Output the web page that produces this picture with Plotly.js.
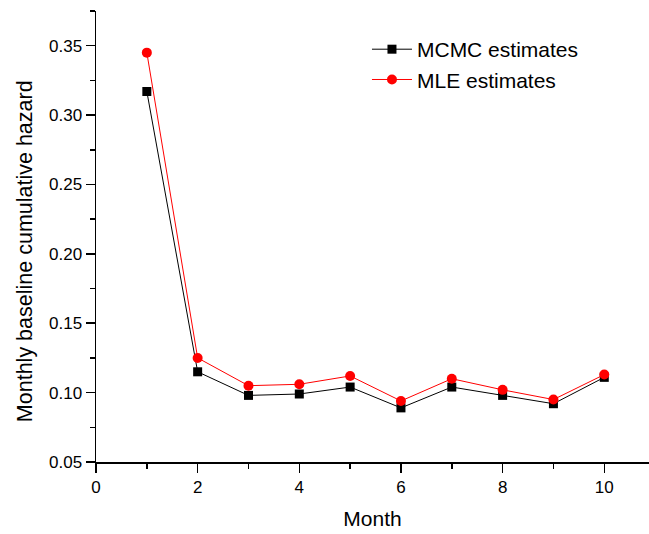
<!DOCTYPE html>
<html>
<head>
<meta charset="utf-8">
<script src="https://cdn.plot.ly/plotly-3.0.1.min.js"></script>
<style>html,body{margin:0;padding:0;background:#fff;}#chart{width:649px;height:534px;}</style>
</head>
<body>
<div id="chart"></div>
<script>
const months = [1, 2, 3, 4, 5, 6, 7, 8, 9, 10];
const mcmcEstimates = [0.317, 0.115, 0.098, 0.099, 0.104, 0.089, 0.104, 0.098, 0.092, 0.111];
const mleEstimates = [0.345, 0.125, 0.105, 0.106, 0.112, 0.094, 0.110, 0.102, 0.095, 0.113];
const seriesNames = ["MCMC estimates", "MLE estimates"];
const xTitle = "Month";
const yTitle = "Monthly baseline cumulative hazard";

const traces = [
  {x: months, y: mcmcEstimates, name: seriesNames[0], type: "scatter", mode: "lines+markers",
   line: {color: "#000000", width: 1}, marker: {symbol: "square", size: 9, color: "#000000"}},
  {x: months, y: mleEstimates, name: seriesNames[1], type: "scatter", mode: "lines+markers",
   line: {color: "#ff0000", width: 1}, marker: {symbol: "circle", size: 10, color: "#ff0000"}}
];

const font = {family: "Liberation Sans, Arial, sans-serif", color: "#000000"};
const layout = {
  width: 649, height: 534,
  margin: {l: 96, r: 0, t: 11, b: 72},
  paper_bgcolor: "#ffffff", plot_bgcolor: "#ffffff",
  font: Object.assign({size: 16}, font),
  showlegend: true,
  legend: {x: 0.49, y: 0.96, xanchor: "left", yanchor: "top", bgcolor: "rgba(0,0,0,0)",
           font: Object.assign({size: 21}, font), tracegroupgap: 0, itemwidth: 40},
  xaxis: {
    range: [0, 10.88], tick0: 0, dtick: 2, ticks: "outside", ticklen: 9, tickwidth: 1.5,
    tickcolor: "#000", showline: true, linecolor: "#000", linewidth: 1.5, showgrid: false,
    zeroline: false, tickfont: Object.assign({size: 17}, font),
    minor: {dtick: 1, tick0: 0, ticks: "outside", ticklen: 5, tickwidth: 1.5, tickcolor: "#000", showgrid: false},
    title: {text: xTitle, font: Object.assign({size: 21}, font), standoff: 15}
  },
  yaxis: {
    range: [0.05, 0.375], tick0: 0.05, dtick: 0.05, tickformat: ".2f", ticks: "outside", ticklen: 9, tickwidth: 1.5,
    tickcolor: "#000", showline: true, linecolor: "#000", linewidth: 1.5, showgrid: false,
    zeroline: false, tickfont: Object.assign({size: 17}, font),
    minor: {dtick: 0.025, tick0: 0.05, ticks: "outside", ticklen: 5, tickwidth: 1.5, tickcolor: "#000", showgrid: false}
  },
  annotations: [
    {text: yTitle, xref: "paper", yref: "paper", x: -0.128, y: 0.468, xanchor: "center", yanchor: "middle",
     textangle: -90, showarrow: false, font: Object.assign({size: 21.5}, font)}
  ]
};
Plotly.newPlot("chart", traces, layout, {displayModeBar: false, staticPlot: true});
</script>
</body>
</html>
